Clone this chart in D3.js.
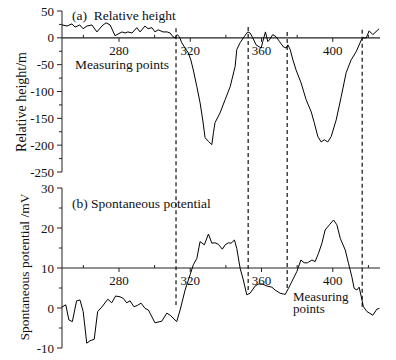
<!DOCTYPE html>
<html><head><meta charset="utf-8">
<script src="https://cdn.jsdelivr.net/npm/d3@7"></script>
<style>
html,body{margin:0;padding:0;background:#fff;}
svg{display:block;}
text{font-family:'Liberation Serif','DejaVu Serif','Times New Roman',serif;}
</style></head>
<body><svg id="c" width="396" height="360"></svg>
<script>
// ---- data ----
const heightX = [248,250.8,253.6,255.3,258,259.8,262,264.8,267.6,270.4,272.7,275,277.8,279.4,281.7,283.4,285,287.3,290,291.8,294.6,296.3,298.5,300.2,302,304.7,307,308.7,310.3,311.5,312.6,313.9,315.2,317.1,318.9,320.3,321.7,323.7,325.5,327,328.3,330.2,332.1,333,333.9,336.7,339.6,342.4,345.2,346.1,348,350.2,352.3,353.6,355.1,356.9,359.8,360.7,362.2,363.5,364.4,366.3,368.2,370.1,372.3,373.8,374.8,376.1,377.6,379.4,382.2,385,387.9,389.6,391.6,393.5,395.2,397.2,399.1,401.9,404.7,407.5,410.3,413.1,416,416.9,418.8,420.4,422.5,426];
const heightY = [24,22,26,20,24,17,22,24,11,22,28,24,4,7,11,9,11,9,19,11,22,17,19,11,15,11,11,9,2,0,6,2,-9,-19,-28,-41,-60,-91,-121,-153,-186,-193,-199,-177,-158,-140,-115,-91,-53,-22,-9,2,11,9,0,-13,-19,-7,11,-7,-4,6,2,-7,-17,-19,-13,-22,-41,-60,-84,-115,-138,-158,-184,-194,-190,-194,-184,-153,-110,-65,-41,-26,-4,0,0,13,6,17];
const spX = [247.8,250.1,251.9,253.8,256.2,258.1,259.9,261.9,263.7,266.1,268,270.3,273.7,275.9,278.1,280.6,282.4,284.3,286.2,288.4,290.5,292.4,294.6,296.5,300.2,304,306.8,308.7,312.4,314.3,317.1,319.9,321.7,323.7,325.5,327.9,330.2,332.1,333.9,335.8,338,339.6,341.4,342.9,344.8,346.1,348,349.8,351.7,353.6,356.4,358.3,360.5,363,365.8,367.6,370.4,372.3,373.3,375.1,377,379.8,382.1,383.9,385.8,388.3,390.1,392,393.9,395.7,398.1,400.4,402.3,404.2,407,408.8,410.7,412,413.5,414.8,416,417.2,419.2,422.5,424.7,426.2];
const spY = [0.2,0.8,-3,-3.4,1.8,2,-0.9,-8.8,-8.2,-7.8,-0.9,0.2,2.2,1.3,3,2.8,2.4,1.3,1.8,0.3,0.7,1.2,-0.1,-0.5,-3.7,-3.3,-1.3,-1.8,-3.4,-0.5,4.5,8.3,10.8,12.4,16.6,15.8,18.5,16.2,16.3,15.9,14.7,15.8,16.3,16.2,17,14.9,9.9,7,3.3,3.7,5.5,6,6,5.5,5.2,4.5,3.7,3.5,3.4,4.9,6.6,9.1,12,11.3,11.3,12,11.6,13.7,16.2,19.5,20.8,22,20.8,17.4,14.5,11.2,7.8,4.9,4.5,5.2,2.8,0.3,-0.9,-1.8,-0.3,-0.1];
const dashX = [312, 352.5, 374.4, 416.5];
const dashTop = [18, 20, 11, 15];      // relative height where dashed lines start
const dashBottom = [0.75, 3.75, 4.5, -0.5]; // SP value where they end
const xMajorTicks = [280, 320, 360, 400];
const xMinorTicks = [260, 300, 340, 380, 420];
const topMajor = [50, 0, -50, -100, -150, -200, -250];
const topMinor = [25, -25, -75, -125, -175, -225];
const botMajor = [30, 20, 10, 0, -10];
const botMinor = [25, 15, 5, -5];

// ---- scales ----
const svg = d3.select("#c");
const FONT = "'Liberation Serif','DejaVu Serif','Times New Roman',serif";
const x = d3.scaleLinear().domain([248, 426.5]).range([62, 380]);
const yT = d3.scaleLinear().domain([-250, 50]).range([172, 11]);
const yB = d3.scaleLinear().domain([-10, 30]).range([348, 188]);
const axCol = "#222";

function yAxisPanel(y, major, minor) {
  const g = svg.append("g");
  const d = y.domain();
  g.append("line").attr("x1", 62).attr("x2", 62).attr("y1", y(d[1])).attr("y2", y(d[0]))
    .attr("stroke", axCol).attr("stroke-width", 1);
  g.selectAll("line.mj").data(major).enter().append("line")
    .attr("x1", 57).attr("x2", 62).attr("y1", v => y(v)).attr("y2", v => y(v))
    .attr("stroke", axCol);
  g.selectAll("line.mn").data(minor).enter().append("line")
    .attr("x1", 59).attr("x2", 62).attr("y1", v => y(v)).attr("y2", v => y(v))
    .attr("stroke", axCol);
  g.selectAll("text").data(major).enter().append("text")
    .attr("x", 54).attr("y", v => y(v) + 4.5).attr("text-anchor", "end")
    .attr("font-family", FONT).attr("font-size", 13).attr("fill", "#111").text(v => String(v));
}

function xAxisAt(yPix) {
  const g = svg.append("g");
  g.append("line").attr("x1", x.range()[0]).attr("x2", x.range()[1]).attr("y1", yPix).attr("y2", yPix)
    .attr("stroke", axCol).attr("stroke-width", 1.1);
  g.selectAll("line.mj").data(xMajorTicks).enter().append("line")
    .attr("x1", v => x(v)).attr("x2", v => x(v)).attr("y1", yPix).attr("y2", yPix + 4)
    .attr("stroke", axCol);
  g.selectAll("line.mn").data(xMinorTicks).enter().append("line")
    .attr("x1", v => x(v)).attr("x2", v => x(v)).attr("y1", yPix).attr("y2", yPix - 3)
    .attr("stroke", axCol);
  g.selectAll("text").data(xMajorTicks).enter().append("text")
    .attr("x", v => x(v)).attr("y", yPix + 17).attr("text-anchor", "middle")
    .attr("font-family", FONT).attr("font-size", 13).attr("fill", "#111").text(v => v);
}

yAxisPanel(yT, topMajor, topMinor);
yAxisPanel(yB, botMajor, botMinor);
xAxisAt(yT(0));
xAxisAt(yB(10));

// dashed lines
svg.append("g").selectAll("line").data(dashX).enter().append("line")
  .attr("x1", v => x(v)).attr("x2", v => x(v))
  .attr("y1", (v, i) => yT(dashTop[i])).attr("y2", (v, i) => yB(dashBottom[i]))
  .attr("stroke", "#111").attr("stroke-width", 1.2).attr("stroke-dasharray", "4,3");

// series
const lineT = d3.line().x((d, i) => x(heightX[i])).y(d => yT(d));
const lineB = d3.line().x((d, i) => x(spX[i])).y(d => yB(d));
svg.append("path").datum(heightY).attr("d", lineT).attr("fill", "none").attr("stroke", "#000").attr("stroke-width", 1);
svg.append("path").datum(spY).attr("d", lineB).attr("fill", "none").attr("stroke", "#000").attr("stroke-width", 1);

// texts
function txt(xp, yp, s, size, anchor) {
  return svg.append("text").attr("x", xp).attr("y", yp).attr("font-family", FONT)
    .attr("font-size", size).attr("fill", "#111").attr("text-anchor", anchor || "start").text(s);
}
txt(72, 20, "(a)\u00a0\u00a0Relative height", 13.5);
txt(122, 69, "Measuring points", 13.5, "middle");
txt(72, 208, "(b) Spontaneous potential", 13.5);
txt(293, 300.5, "Measuring", 13);
txt(293, 312.5, "points", 13);
svg.append("text").attr("transform", "translate(26,102) rotate(-90)").attr("text-anchor", "middle")
  .attr("font-family", FONT).attr("font-size", 14).attr("fill", "#111").text("Relative height/m");
svg.append("text").attr("transform", "translate(29,267) rotate(-90)").attr("text-anchor", "middle")
  .attr("font-family", FONT).attr("font-size", 13.5).attr("fill", "#111").text("Spontaneous potential /mV");
</script></body></html>
